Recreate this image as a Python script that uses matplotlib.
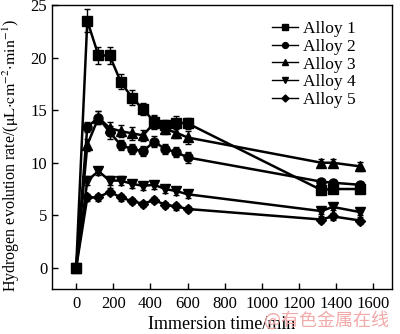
import matplotlib

matplotlib.use("Agg")
import matplotlib.pyplot as plt
from matplotlib.lines import Line2D

plt.rcParams["font.family"] = ["Liberation Serif", "DejaVu Serif"]
plt.rcParams["mathtext.fontset"] = "stix"

# immersion time (min)
times = [0, 60, 120, 180, 240, 300, 360, 420, 480, 540, 600, 1320, 1380, 1530]

alloy1 = [0, 23.5, 20.2, 20.2, 17.7, 16.2, 15.1, 13.9, 13.6, 13.8, 13.75, 7.4, 7.5, 7.5]
alloy2 = [0, 13.4, 14.3, 12.9, 11.7, 11.3, 11.1, 12.0, 11.3, 11.0, 10.5, 8.2, 8.1, 7.9]
alloy3 = [0, 11.7, 14.3, 13.3, 13.0, 12.8, 12.6, 13.8, 13.2, 12.85, 12.4, 10.0, 10.0, 9.65]
alloy4 = [0, 8.3, 9.2, 8.3, 8.3, 8.0, 7.8, 7.9, 7.5, 7.3, 7.0, 5.4, 5.8, 5.3]
alloy5 = [0, 6.7, 6.7, 7.25, 6.7, 6.35, 6.1, 6.45, 6.0, 5.85, 5.6, 4.6, 4.9, 4.5]

err1 = [0.3, 1.1, 0.8, 0.8, 0.7, 0.7, 0.6, 0.6, 0.5, 0.6, 0.5, 0.4, 0.4, 0.3]
err2 = [0.3, 0.5, 0.6, 0.6, 0.5, 0.5, 0.5, 0.5, 0.5, 0.5, 0.5, 0.3, 0.3, 0.3]
err3 = [0.3, 0.6, 0.6, 0.6, 0.6, 0.6, 0.5, 0.6, 0.5, 0.5, 0.6, 0.4, 0.4, 0.4]
err4 = [0.3, 0.4, 0.4, 0.4, 0.4, 0.4, 0.4, 0.4, 0.4, 0.4, 0.4, 0.3, 0.3, 0.3]
err5 = [0.3, 0.3, 0.3, 0.3, 0.3, 0.3, 0.3, 0.3, 0.3, 0.3, 0.3, 0.3, 0.3, 0.3]

series = [
    ("Alloy 1", alloy1, err1, "s"),
    ("Alloy 2", alloy2, err2, "o"),
    ("Alloy 3", alloy3, err3, "^"),
    ("Alloy 4", alloy4, err4, "v"),
    ("Alloy 5", alloy5, err5, "D"),
]

fig = plt.figure(figsize=(4.0, 3.34), dpi=100)
ax = fig.add_axes([0.13, 0.135, 0.85, 0.85])

handles = []
for label, values, errs, marker in series:
    ms = 5.5 if marker == "D" else 6.5
    ax.errorbar(times, values, yerr=errs, color="black", marker=marker,
                markersize=ms, linewidth=1.8, elinewidth=1.0, capsize=2.5,
                capthick=1.0)
    handles.append(Line2D([], [], color="black", marker=marker, linewidth=1.0,
                          markersize=ms * 0.65, label=label))

ax.set_xlim(-130, 1700)
ax.set_ylim(-2, 25)
ax.set_xticks(range(0, 1601, 200))
ax.set_yticks(range(0, 26, 5))
ax.tick_params(direction="in", labelsize=12, length=4, width=1)
ax.tick_params(axis="x", pad=5)
for s in ax.spines.values():
    s.set_linewidth(1.0)

ax.set_xlabel("Immersion time/min", fontsize=13, labelpad=3)
ax.set_ylabel(r"Hydrogen evolution rate/($\mathrm{\mu L{\cdot}cm^{-2}{\cdot}min^{-1}}$)",
              fontsize=11.5, labelpad=1)
ax.yaxis.set_label_coords(-0.088, 0.47)

ax.legend(handles=handles, loc="upper right", frameon=False, fontsize=12.5,
          handlelength=1.5, handletextpad=0.3, labelspacing=0.1,
          bbox_to_anchor=(0.94, 1.0))

fig.text(0.972, 0.012, "@有色金属在线", color="#f2a9a9", fontsize=13,
         ha="right", va="bottom", family=["Noto Sans CJK SC", "DejaVu Sans"])

fig.savefig("out.png", dpi=100)
plt.close(fig)
